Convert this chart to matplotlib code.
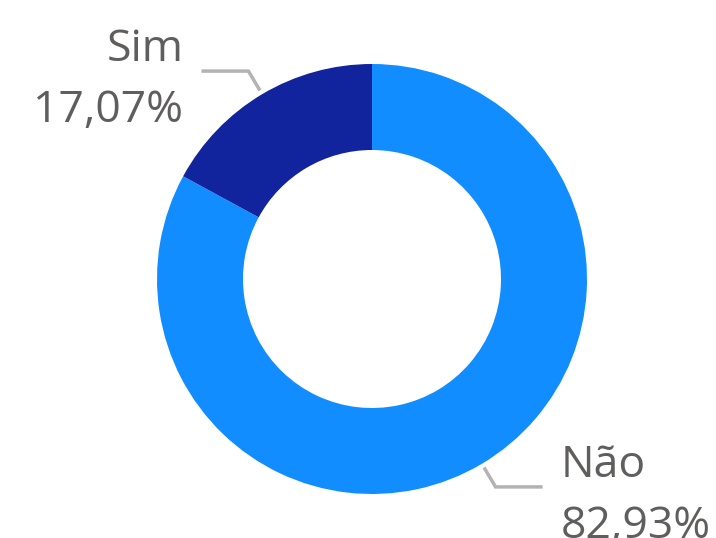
import numpy as np
import matplotlib.pyplot as plt

# data
labels = ['Não', 'Sim']
values = [82.93, 17.07]
colors = ['#118DFF', '#12239E']

text_color = '#605E5C'
line_color = '#B3B3B3'

# figure in pixel-like units (716 x 538)
fig = plt.figure(figsize=(7.16, 5.38), dpi=100)
ax = fig.add_axes([0, 0, 1, 1])
ax.set_xlim(0, 716)
ax.set_ylim(0, 538)
ax.set_aspect('equal')
ax.axis('off')

cx, cy, R = 372, 259, 215

wedges, _ = ax.pie(values, colors=colors, startangle=90, counterclock=False,
                   radius=R, center=(cx, cy), frame=True,
                   wedgeprops=dict(width=R * 0.4, linewidth=0))
ax.set_xlim(0, 716)
ax.set_ylim(0, 538)
ax.axis('off')

# leader lines and labels
for w, lab, val in zip(wedges, labels, values):
    mid = np.deg2rad((w.theta1 + w.theta2) / 2)
    x0, y0 = cx + 1.02 * R * np.cos(mid), cy + 1.02 * R * np.sin(mid)
    x1, y1 = cx + 1.125 * R * np.cos(mid), cy + 1.125 * R * np.sin(mid)
    side = 1 if np.cos(mid) > 0 else -1
    x2 = x1 + side * 47
    ax.plot([x0, x1, x2], [y0, y1, y1], color=line_color, lw=2.5,
            solid_joinstyle='miter', solid_capstyle='butt')
    ha = 'left' if side > 0 else 'right'
    tx = x2 + side * 18
    pct = f'{val:.2f}%'.replace('.', ',')
    ax.text(tx, y1 + 10, lab, ha=ha, va='baseline', fontsize=32,
            color=text_color, family='Open Sans')
    ax.text(tx, y1 - 51, pct, ha=ha, va='baseline', fontsize=32,
            color=text_color, family='Open Sans')

plt.savefig('out.png', dpi=100)
